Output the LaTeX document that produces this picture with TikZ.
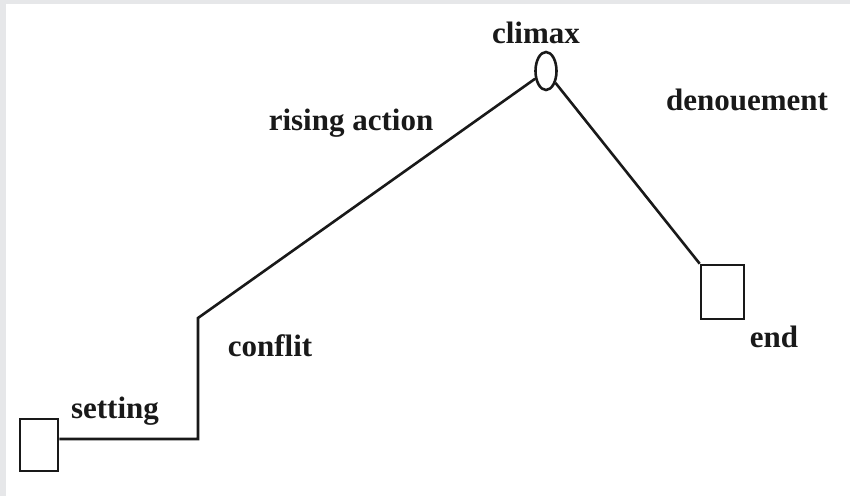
\documentclass[tikz,border=0pt]{standalone}
\usepackage{fontspec}
\setmainfont{Liberation Serif}
\usetikzlibrary{shapes.geometric,calc}
\begin{document}
\begin{tikzpicture}[x=1pt,y=-1pt,
  lbl/.style={font=\fontsize{31}{33}\selectfont\bfseries, text=black!90, inner sep=0pt, anchor=base},
  boxshape/.style={draw=black!90, line width=2.6pt, rectangle, inner sep=0pt, fill=white},
  conn/.style={draw=black!90, line width=2.6pt},
]
\useasboundingbox (0,0) rectangle (850,496);
\fill[fill={rgb,255:red,230;green,231;blue,233}] (0,0) rectangle (850,496);
\fill[white] (6,4) rectangle (850,496);
\node[boxshape, minimum width=38pt, minimum height=52pt] (sbox) at (39,445) {};
\node[boxshape, minimum width=43pt, minimum height=54pt] (ebox) at (722.5,292) {};
\node[draw=black!90, line width=2.6pt, ellipse, inner sep=0pt, minimum width=21pt, minimum height=38pt] (climax) at (546,71) {};
\coordinate (c1) at (198,439);
\coordinate (c2) at (198,318);
\draw[conn] (sbox.east |- c1) -- (c1) -- (c2) -- (climax);
\draw[conn] (climax) -- (ebox.north west);
\node[lbl] (tclimax) at (536,43) {climax};
\node[lbl] (trising) at (351,130) {rising action};
\node[lbl] (tden) at (747,110) {denouement};
\node[lbl] (tconf) at (270,356) {conflit};
\node[lbl] (tset) at (115,418) {setting};
\node[lbl] (tend) at (774,347) {end};
\end{tikzpicture}
\end{document}
